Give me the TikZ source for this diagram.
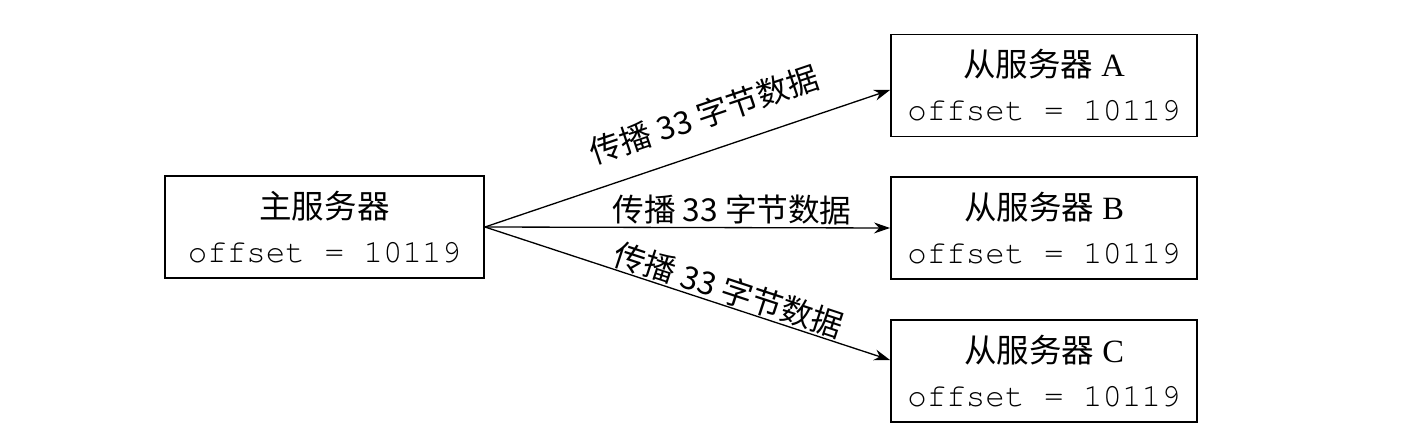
\documentclass[tikz,border=0pt]{standalone}
\usepackage{fontspec}
\setmainfont{Liberation Serif}
\setmonofont{Liberation Mono}
\newfontfamily\cjk{Noto Sans CJK SC}
\newcommand{\courierfont}{\fontencoding{T1}\fontfamily{pcr}\selectfont}
\usetikzlibrary{arrows.meta}

\begin{document}
\begin{tikzpicture}[
  server/.style={draw, line width=1.1pt, align=center, minimum height=2.04cm, minimum width=6.12cm, inner sep=0pt, font=\fontsize{18.5}{25}\selectfont},
  push/.style={-{Stealth[length=0.32cm,width=0.22cm]}, line width=0.75pt},
  lbl/.style={font=\cjk\fontsize{18}{20}\selectfont, inner sep=0pt, sloped}
]

\useasboundingbox (0,0) rectangle (28.52,-8.84);

% Master server
\node[server, minimum width=6.38cm] (master) at (6.49,-4.54) {{\cjk 主服务器}\\{\courierfont offset = 10119}};

% Slave servers
\foreach \name/\y in {A/-1.71, B/-4.56, C/-7.42} {
  \node[server] (slave\name) at (20.88,\y) {{\cjk 从服务器} \name\\{\courierfont offset = 10119}};
}

% Propagation arrows
\draw[push] (master.east) -- ([yshift=-0.09cm]slaveA.west)
  node[lbl, pos=0.57, above=0.42cm] {传播 33 字节数据};
\draw[push] (master.east) -- (slaveB.west)
  node[lbl, pos=0.61, above=0.05cm] {传播 33 字节数据};
\draw[push] (master.east) -- ([yshift=0.22cm]slaveC.west)
  node[lbl, pos=0.59, above=0.02cm] {传播 33 字节数据};

\end{tikzpicture}
\end{document}
